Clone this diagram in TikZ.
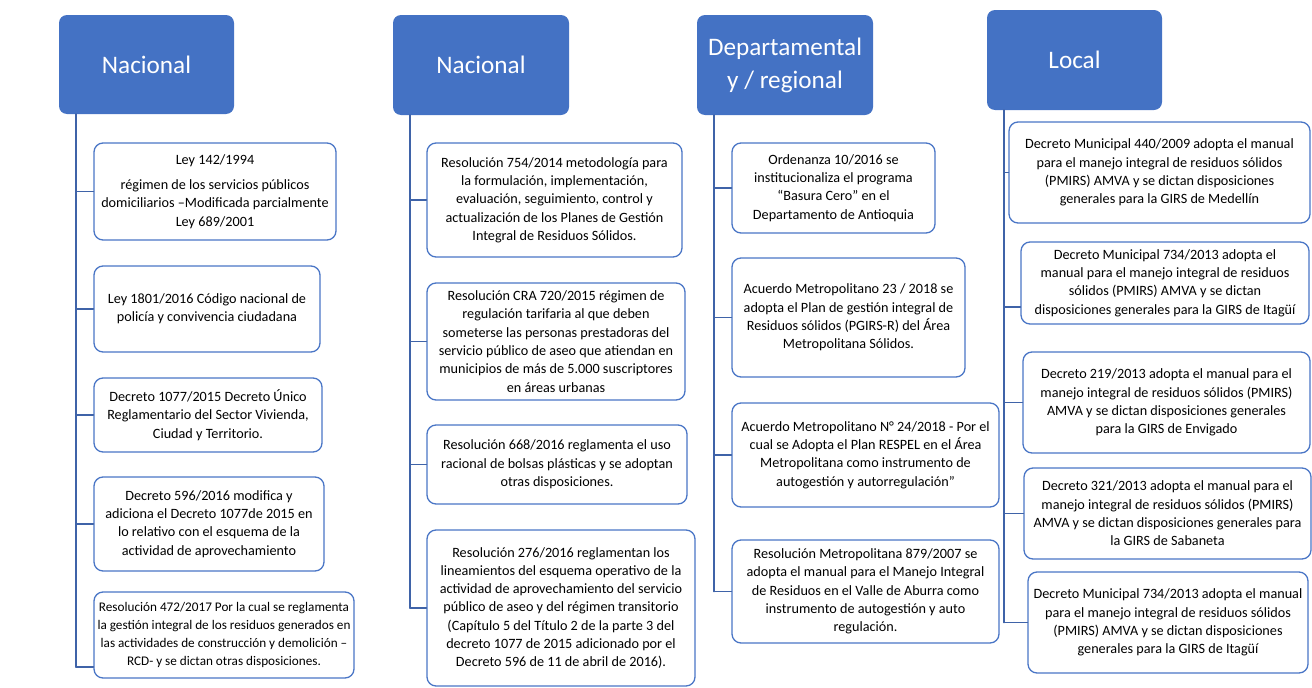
\documentclass[tikz,border=0pt]{standalone}
\usepackage{fontspec}
\setmainfont{Carlito}
\usetikzlibrary{positioning}

% Colours of the chart
\definecolor{hdrblue}{HTML}{4472C4}
\definecolor{boxblue}{HTML}{4A76C6}
\definecolor{linkblue}{HTML}{3F63A8}

\tikzset{
  hdr/.style={fill=hdrblue, rounded corners=8pt, text=white, align=center,
    inner sep=2pt, font=\fontsize{25.2}{33}\selectfont},
  box/.style={draw=boxblue, line width=1.3pt, fill=white, rounded corners=9pt,
    align=center, inner sep=2pt, font=\fontsize{14.2}{18.3}\selectfont},
  link/.style={draw=linkblue, line width=1.6pt}
}

\begin{document}
\begin{tikzpicture}[x=1pt, y=-1pt, line cap=round, line join=round]

% Fix the size of the page
\useasboundingbox (0,0) rectangle (1312,688);

% Headers of the four columns
\node[hdr, minimum width=175pt, minimum height=99pt] (hA) at (146.5,64.5) {Nacional};
\node[hdr, minimum width=176pt, minimum height=100pt] (hB) at (481,65) {Nacional};
\node[hdr, minimum width=176pt, minimum height=100pt] (hC) at (785,65) {Departamental\\y / regional};
\node[hdr, minimum width=175pt, minimum height=100pt] (hD) at (1074.5,60) {Local};

% Trunks under the headers
\coordinate (tA) at (76,114);
\coordinate (tB) at (410,115);
\coordinate (tC) at (714,115);
\coordinate (tD) at (1004,110);

% Column 1: national laws
\node[box, minimum width=242pt, minimum height=97pt] (a1) at (215,191.5)
  {Ley 142/1994\\[7pt] régimen de los servicios públicos\\domiciliarios –Modificada parcialmente\\Ley 689/2001};
\node[box, minimum width=226pt, minimum height=86pt] (a2) at (207,309)
  {Ley 1801/2016 Código nacional de\\policía y convivencia ciudadana};
\node[box, minimum width=228pt, minimum height=74pt] (a3) at (208,415)
  {Decreto 1077/2015 Decreto Único\\Reglamentario del Sector Vivienda,\\Ciudad y Territorio.};
\node[box, minimum width=230pt, minimum height=94pt] (a4) at (209,524)
  {Decreto 596/2016 modifica y\\adiciona el Decreto 1077de 2015 en\\lo relativo con el esquema de la\\actividad de aprovechamiento};
\node[box, minimum width=260pt, minimum height=86pt, font=\fontsize{13.2}{18.3}\selectfont] (a5) at (224,635)
  {Resolución 472/2017 Por la cual se reglamenta\\la gestión integral de los residuos generados en\\las actividades de construcción y demolición –\\RCD- y se dictan otras disposiciones.};

% Column 2: national resolutions
\node[box, minimum width=255pt, minimum height=114pt] (b1) at (554.5,200)
  {Resolución 754/2014 metodología para\\la formulación, implementación,\\evaluación, seguimiento, control y\\actualización de los Planes de Gestión\\Integral de Residuos Sólidos.};
\node[box, minimum width=258pt, minimum height=117pt] (b2) at (556,341.5)
  {Resolución CRA 720/2015 régimen de\\regulación tarifaria al que deben\\someterse las personas prestadoras del\\servicio público de aseo que atiendan en\\municipios de más de 5.000 suscriptores\\en áreas urbanas};
\node[box, minimum width=260pt, minimum height=79pt] (b3) at (557,464.5)
  {Resolución 668/2016 reglamenta el uso\\racional de bolsas plásticas y se adoptan\\otras disposiciones.};
\node[box, minimum width=268pt, minimum height=156pt] (b4) at (561,608)
  {Resolución 276/2016 reglamentan los\\lineamientos del esquema operativo de la\\actividad de aprovechamiento del servicio\\público de aseo y del régimen transitorio\\(Capítulo 5 del Título 2 de la parte 3 del\\decreto 1077 de 2015 adicionado por el\\Decreto 596 de 11 de abril de 2016).};

% Column 3: departmental / regional
\node[box, minimum width=203pt, minimum height=90pt] (c1) at (833.5,188)
  {Ordenanza 10/2016 se\\institucionaliza el programa\\“Basura Cero” en el\\Departamento de Antioquia};
\node[box, minimum width=233pt, minimum height=119pt] (c2) at (848.5,317.5)
  {Acuerdo Metropolitano 23 / 2018 se\\adopta el Plan de gestión integral de\\Residuos sólidos (PGIRS-R) del Área\\Metropolitana Sólidos.};
\node[box, minimum width=267pt, minimum height=104pt] (c3) at (865.5,455)
  {Acuerdo Metropolitano N° 24/2018 - Por el\\cual se Adopta el Plan RESPEL en el Área\\Metropolitana como instrumento de\\autogestión y autorregulación”};
\node[box, minimum width=267pt, minimum height=103pt] (c4) at (865.5,591.5)
  {Resolución Metropolitana 879/2007 se\\adopta el manual para el Manejo Integral\\de Residuos en el Valle de Aburra como\\instrumento de autogestión y auto\\regulación.};

% Column 4: local decrees
\node[box, minimum width=301pt, minimum height=101pt] (d1) at (1159.5,172.5)
  {Decreto Municipal 440/2009 adopta el manual\\para el manejo integral de residuos sólidos\\(PMIRS) AMVA y se dictan disposiciones\\generales para la GIRS de Medellín};
\node[box, minimum width=288pt, minimum height=82pt] (d2) at (1165,283)
  {Decreto Municipal 734/2013 adopta el\\manual para el manejo integral de residuos\\sólidos (PMIRS) AMVA y se dictan\\disposiciones generales para la GIRS de Itagüí};
\node[box, minimum width=287pt, minimum height=101pt] (d3) at (1166.5,402.5)
  {Decreto 219/2013 adopta el manual para el\\manejo integral de residuos sólidos (PMIRS)\\AMVA y se dictan disposiciones generales\\para la GIRS de Envigado};
\node[box, minimum width=287pt, minimum height=91pt] (d4) at (1167.5,513.5)
  {Decreto 321/2013 adopta el manual para el\\manejo integral de residuos sólidos (PMIRS)\\AMVA y se dictan disposiciones generales para\\la GIRS de Sabaneta};
\node[box, minimum width=280pt, minimum height=101pt] (d5) at (1168,622.5)
  {Decreto Municipal 734/2013 adopta el manual\\para el manejo integral de residuos sólidos\\(PMIRS) AMVA y se dictan disposiciones\\generales para la GIRS de Itagüí};

% Branch points that sit off the box centres
\coordinate (a5in) at ([yshift=-32pt]a5.west);
\coordinate (d2in) at ([yshift=-24pt]d2.west);

% Trunk lines
\draw[link] (tA) -- (tA |- a5in);
\draw[link] (tB) -- (tB |- b4.west);
\draw[link] (tC) -- (tC |- c4.west);
\draw[link] (tD) -- (tD |- d5.west);

% Branches from the trunks to the boxes
\foreach \b in {a1,a2,a3,a4}
  \draw[link] (tA |- \b.west) -- (\b.west);
\draw[link] (tA |- a5in) -- (a5in);
\foreach \b in {b1,b2,b3,b4}
  \draw[link] (tB |- \b.west) -- (\b.west);
\foreach \b in {c1,c2,c3,c4}
  \draw[link] (tC |- \b.west) -- (\b.west);
\foreach \b in {d1,d3,d4,d5}
  \draw[link] (tD |- \b.west) -- (\b.west);
\draw[link] (tD |- d2in) -- (d2in);

\end{tikzpicture}
\end{document}
